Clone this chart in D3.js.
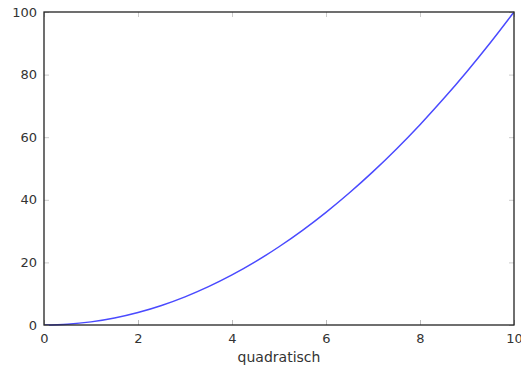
<!DOCTYPE html>
<html>
<head>
<meta charset="utf-8">
<script src="https://cdn.jsdelivr.net/npm/d3@7"></script>
<style>
  body { margin: 0; background: #fff; }
  text { font-family: "DejaVu Sans", sans-serif; }
</style>
</head>
<body>
<div id="chart"></div>
<script>
// values
const xValues = [0, 0.5, 1, 1.5, 2, 2.5, 3, 3.5, 4, 4.5, 5, 5.5, 6, 6.5, 7, 7.5, 8, 8.5, 9, 9.5, 10];
const yValues = [0, 0.25, 1, 2.25, 4, 6.25, 9, 12.25, 16, 20.25, 25, 30.25, 36, 42.25, 49, 56.25, 64, 72.25, 81, 90.25, 100];
const xTicks = [0, 2, 4, 6, 8, 10];
const yTicks = [0, 20, 40, 60, 80, 100];
const xTitle = "quadratisch";

const width = 521;
const height = 368;
const margin = { top: 12, right: 7, bottom: 43, left: 44 };

const svg = d3.select("#chart")
    .append("svg")
    .attr("width", width)
    .attr("height", height);

const x = d3.scaleLinear()
    .domain([0, 10])
    .range([margin.left, width - margin.right]);

const y = d3.scaleLinear()
    .domain([0, 100])
    .range([height - margin.bottom, margin.top]);

const points = xValues.map((v, i) => [v, yValues[i]]);

// curve
svg.append("path")
    .datum(points)
    .attr("fill", "none")
    .attr("stroke", "#4a4aff")
    .attr("stroke-width", 1.5)
    .attr("d", d3.line()
        .x(d => x(d[0]))
        .y(d => y(d[1]))
        .curve(d3.curveMonotoneX));

// x axis (ticks inward)
const xAxis = svg.append("g")
    .attr("transform", `translate(0, ${height - margin.bottom})`)
    .call(d3.axisBottom(x).tickValues(xTicks).tickSizeInner(-5).tickSizeOuter(0).tickPadding(9));
xAxis.select(".domain").remove();
xAxis.selectAll("line").attr("stroke", "#bbb");
xAxis.selectAll("text").attr("font-size", 13).attr("fill", "#333");

// y axis (ticks inward)
const yAxis = svg.append("g")
    .attr("transform", `translate(${margin.left}, 0)`)
    .call(d3.axisLeft(y).tickValues(yTicks).tickSizeInner(-5).tickSizeOuter(0).tickPadding(7));
yAxis.select(".domain").remove();
yAxis.selectAll("line").attr("stroke", "#ccc");
yAxis.selectAll("text").attr("font-size", 13).attr("fill", "#333");

// top / right ticks
svg.append("g")
    .attr("transform", `translate(0, ${margin.top})`)
    .call(d3.axisTop(x).tickValues(xTicks).tickSizeInner(-5).tickSizeOuter(0).tickFormat(""))
    .call(g => g.select(".domain").remove())
    .call(g => g.selectAll("line").attr("stroke", "#ccc"));
svg.append("g")
    .attr("transform", `translate(${width - margin.right}, 0)`)
    .call(d3.axisRight(y).tickValues(yTicks).tickSizeInner(-5).tickSizeOuter(0).tickFormat(""))
    .call(g => g.select(".domain").remove())
    .call(g => g.selectAll("line").attr("stroke", "#ccc"));

// frame
svg.append("rect")
    .attr("x", margin.left)
    .attr("y", margin.top)
    .attr("width", width - margin.left - margin.right)
    .attr("height", height - margin.top - margin.bottom)
    .attr("fill", "none")
    .attr("stroke", "#222")
    .attr("stroke-width", 1.3);

// x title
svg.append("text")
    .attr("x", (margin.left + width - margin.right) / 2)
    .attr("y", 362)
    .attr("text-anchor", "middle")
    .attr("font-size", 14)
    .attr("fill", "#333")
    .text(xTitle);
</script>
</body>
</html>
